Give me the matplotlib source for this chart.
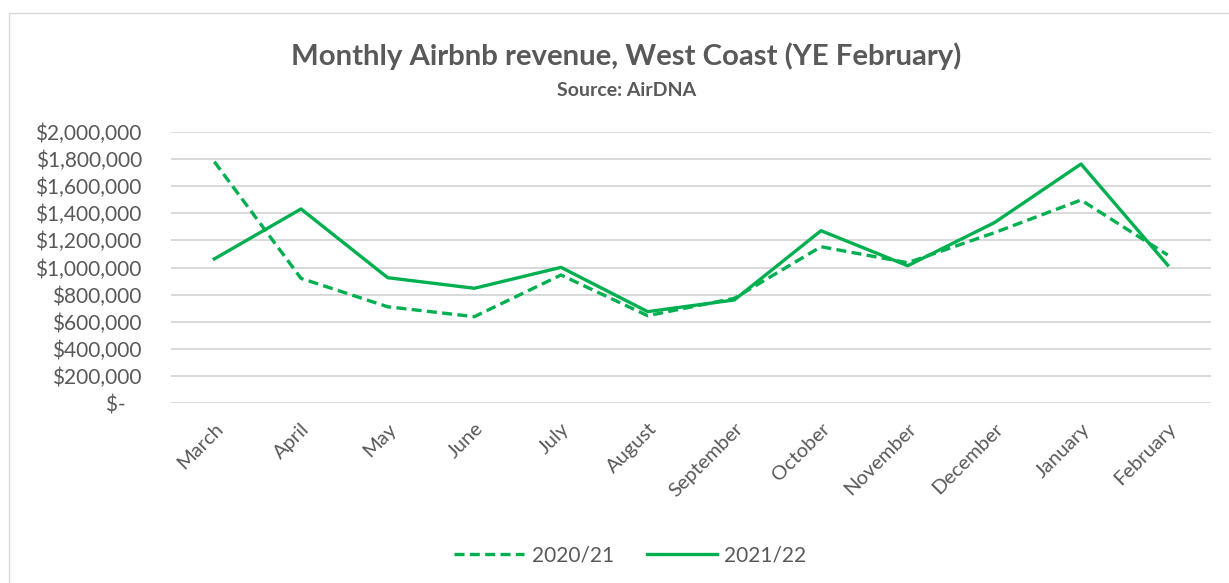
import matplotlib.pyplot as plt
from matplotlib.patches import Rectangle
from matplotlib.lines import Line2D

# Datos
months = ["March", "April", "May", "June", "July", "August", "September",
          "October", "November", "December", "January", "February"]
rev_2020_21 = [1779000, 920000, 711000, 638000, 945000, 645000, 773000,
               1153000, 1035000, 1256000, 1497000, 1092000]
rev_2021_22 = [1063000, 1431000, 925000, 847000, 1001000, 675000, 761000,
               1271000, 1013000, 1330000, 1762000, 1018000]
y_ticks = [0, 200000, 400000, 600000, 800000, 1000000, 1200000,
           1400000, 1600000, 1800000, 2000000]

green = "#00B050"
grey_txt = "#595959"
plt.rcParams["font.family"] = ["Lato", "DejaVu Sans"]

W, H = 1229, 583
fig = plt.figure(figsize=(W / 100, H / 100), dpi=100, facecolor="white")

# borde del area del grafico
fig.patches.append(Rectangle((9 / W, -0.1), 1.2, 1 - 13 / H + 0.1,
                             transform=fig.transFigure, fill=False,
                             edgecolor="#D9D9D9", lw=1.0))

ax = fig.add_axes([171 / W, 1 - 403.3 / H, (1211 - 171) / W, (403.3 - 131.7) / H])
x = range(len(months))
dash = (0, (3, 1.6))
ax.plot(x, rev_2020_21, color=green, lw=2.4, linestyle=dash)
ax.plot(x, rev_2021_22, color=green, lw=2.4)

ax.set_xlim(-0.5, len(months) - 0.5)
ax.set_ylim(0, 2000000)
ax.set_yticks(y_ticks)
ax.set_yticklabels(["$-   "] + [f"${v:,.0f}" for v in y_ticks[1:]])
ax.set_xticks(list(x))
ax.set_xticklabels(months, rotation=45, ha="right", rotation_mode="anchor")
ax.tick_params(axis="both", length=0, colors=grey_txt)
ax.tick_params(axis="y", pad=21, labelsize=15)
ax.tick_params(axis="x", pad=12, labelsize=14.5)
for s in ax.spines.values():
    s.set_visible(False)
ax.grid(axis="y", color="#D9D9D9", lw=1.4)
ax.set_axisbelow(True)

fig.text(626.5 / W, 1 - 65 / H, "Monthly Airbnb revenue, West Coast (YE February)",
         ha="center", va="baseline", fontsize=21.2, fontweight="bold", color=grey_txt)
fig.text(626.5 / W, 1 - 96 / H, "Source: AirDNA", ha="center", va="baseline",
         fontsize=14, fontweight="bold", color=grey_txt)

handles = [Line2D([], [], color=green, lw=2.4, linestyle=dash),
           Line2D([], [], color=green, lw=2.4)]
fig.legend(handles, ["2020/21", "2021/22"], loc="center", ncol=2,
           bbox_to_anchor=(630.5 / W, 1 - 555 / H), frameon=False,
           fontsize=15, labelcolor=grey_txt, handlelength=3.36,
           handletextpad=0.38, columnspacing=1.54)

fig.savefig("out.png", dpi=100, facecolor="white")
